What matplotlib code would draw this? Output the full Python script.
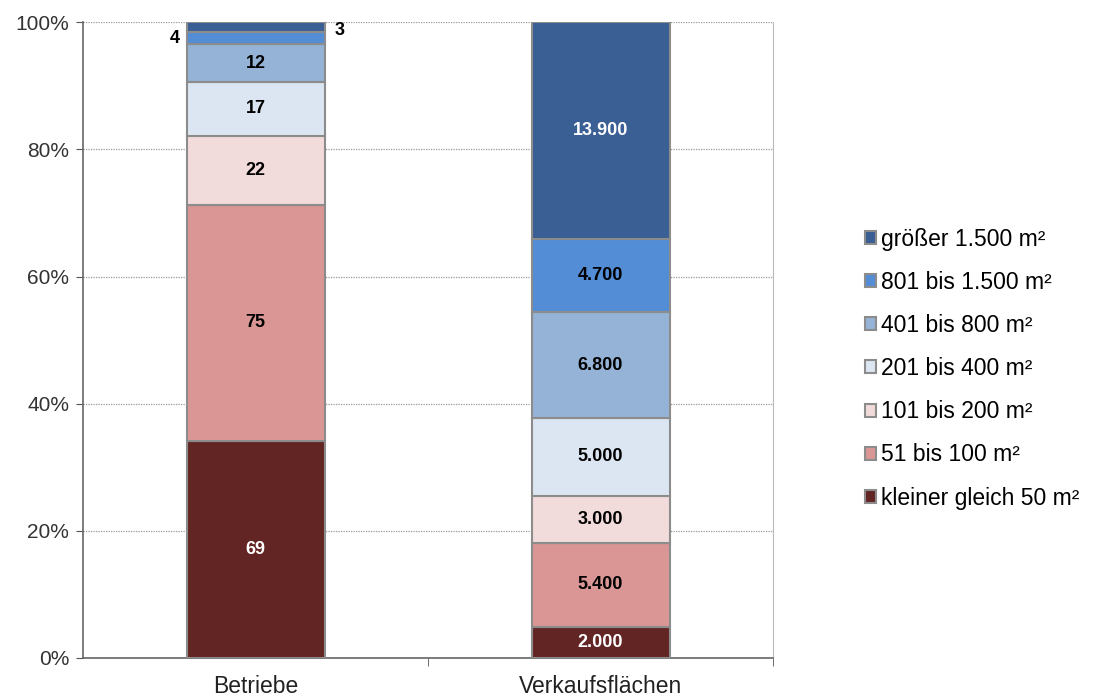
import matplotlib.pyplot as plt
import numpy as np

plt.rcParams["font.family"] = ["Liberation Sans", "DejaVu Sans"]

CATEGORIES = ["Betriebe", "Verkaufsflächen"]
SIZE_CLASSES = [
    "kleiner gleich 50 m²",
    "51 bis 100 m²",
    "101 bis 200 m²",
    "201 bis 400 m²",
    "401 bis 800 m²",
    "801 bis 1.500 m²",
    "größer 1.500 m²",
]
BETRIEBE = [69, 75, 22, 17, 12, 4, 3]
VERKAUFSFLAECHEN = [2000, 5400, 3000, 5000, 6800, 4700, 13900]

COLORS = ["#632523", "#D99694", "#F2DCDB", "#DCE6F2", "#95B3D7", "#538DD5", "#3A5F94"]
TEXT_COLORS = ["white", "black", "black", "black", "black", "black", "white"]
EDGE = "#8C8C8C"


def fmt_de(v):
    return f"{v:,}".replace(",", ".")


values = np.array([BETRIEBE, VERKAUFSFLAECHEN], dtype=float)
shares = values / values.sum(axis=1, keepdims=True) * 100

fig = plt.figure(figsize=(11.01, 6.97), dpi=100)
ax = fig.add_axes([0.0754, 0.056, 0.6267, 0.912])

x = np.arange(len(CATEGORIES))
bottom = np.zeros(len(CATEGORIES))
handles = []
for i, label in enumerate(SIZE_CLASSES):
    h = ax.bar(x, shares[:, i], bottom=bottom, width=0.4, color=COLORS[i],
               edgecolor=EDGE, linewidth=1.5, label=label, zorder=3)
    handles.append(h)
    for j in range(len(CATEGORIES)):
        raw = int(values[j, i])
        mid = bottom[j] + shares[j, i] / 2
        if j == 0 and i == 5:
            ax.text(x[j] - 0.22, mid, str(raw), ha="right", va="center",
                    fontsize=13, fontweight="bold", zorder=4)
        elif j == 0 and i == 6:
            ax.text(x[j] + 0.23, mid - 0.6, str(raw), ha="left", va="center",
                    fontsize=13, fontweight="bold", zorder=4)
        else:
            ax.text(x[j], mid, fmt_de(raw), ha="center", va="center",
                    fontsize=13, fontweight="bold", color=TEXT_COLORS[i], zorder=4)
    bottom += shares[:, i]

ax.set_xlim(-0.5, 1.5)
ax.set_ylim(0, 100)
ax.set_yticks(np.arange(0, 101, 20))
ax.set_yticklabels([f"{t}%" for t in range(0, 101, 20)], fontsize=15, color="#333333")
ax.yaxis.grid(True, linestyle=(0, (1, 1)), color="#999999", linewidth=0.9, zorder=0)
ax.set_xticks(x)
ax.set_xticklabels(CATEGORIES, fontsize=16.5, color="#222222")
ax.tick_params(axis="x", length=0, pad=12)
ax.set_xticks([0.5, 1.5], minor=True)
ax.tick_params(axis="x", which="minor", length=6, direction="out", color="#555555")
ax.tick_params(axis="y", length=5, direction="out", color="#555555", pad=5)

for side in ["left", "bottom"]:
    ax.spines[side].set_color("#666666")
    ax.spines[side].set_linewidth(1.2)
ax.spines["right"].set_color("#BBBBBB")
ax.spines["top"].set_visible(False)

leg = fig.legend(handles[::-1], SIZE_CLASSES[::-1], loc="center left",
                 bbox_to_anchor=(0.7666, 0.4713), frameon=False, fontsize=16.5,
                 handlelength=0.5, handleheight=0.5, handletextpad=0.2,
                 labelspacing=0.88)

fig.savefig("out.png", dpi=100)
